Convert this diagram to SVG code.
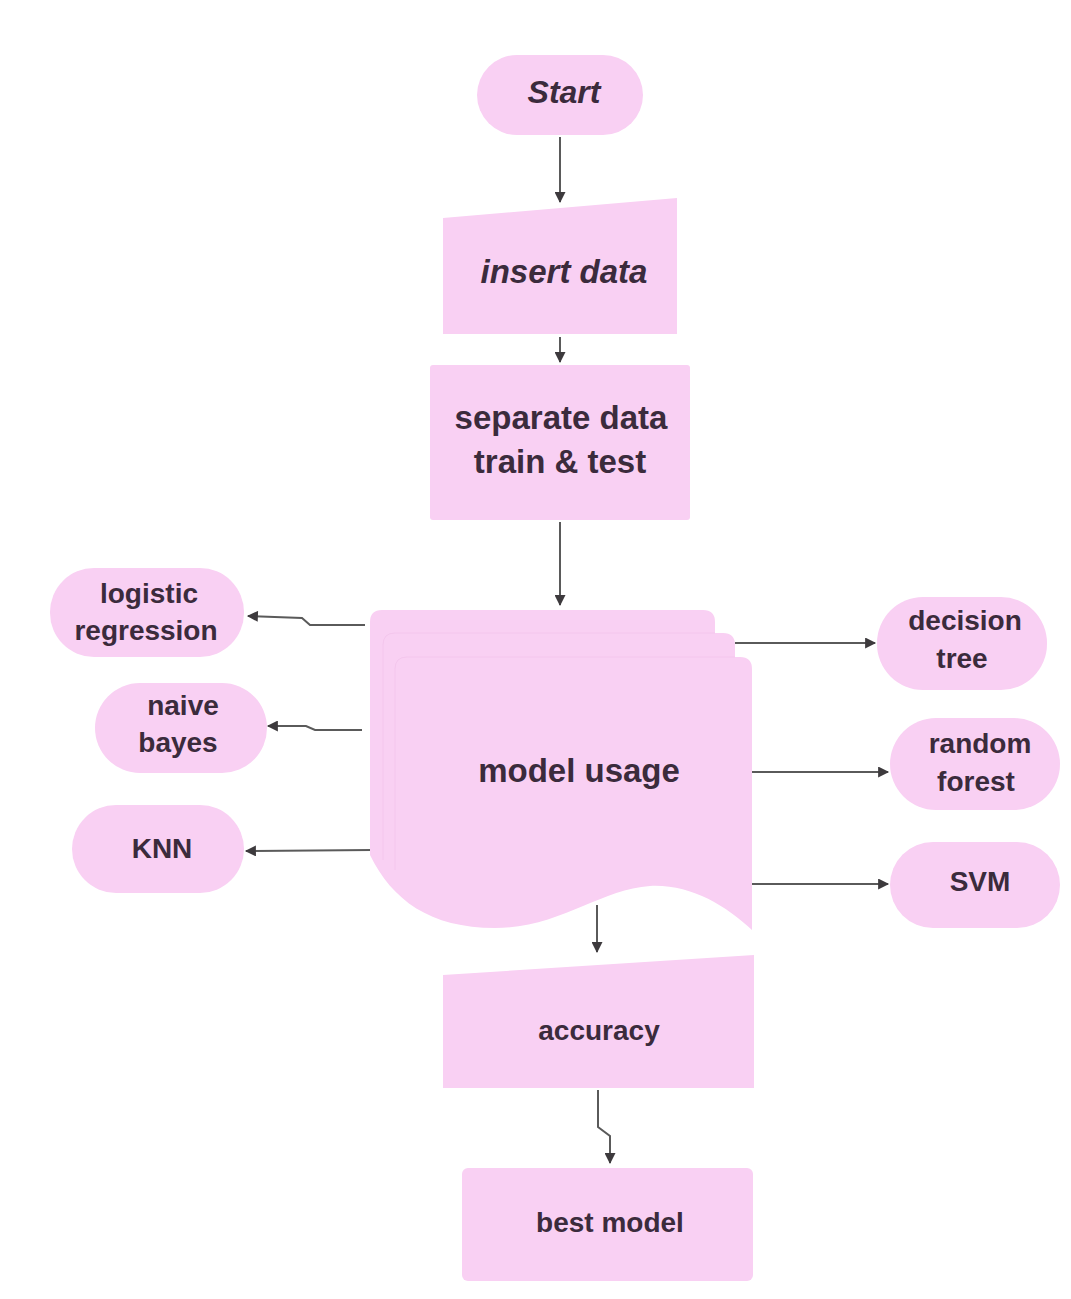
<svg xmlns="http://www.w3.org/2000/svg" width="1071" height="1299" viewBox="0 0 1071 1299">
  <defs>
    <marker id="arrow" viewBox="0 0 10 10" refX="9" refY="5" markerWidth="12" markerHeight="11" markerUnits="userSpaceOnUse" orient="auto">
      <path d="M0,0 L10,5 L0,10 Z" fill="#3d3a3d"/>
    </marker>
    <style>
      .shape { fill: #f9d0f3; }
      .edge { fill: none; stroke: #f4c6ed; stroke-width: 1; }
      .lbl { font-family: "Liberation Sans", Arial, sans-serif; font-weight: bold; fill: #3b2b3c; text-anchor: middle; }
      .big { font-size: 33px; }
      .small { font-size: 28px; }
      .ital { font-style: italic; }
      .conn { fill: none; stroke: #5a5a5a; stroke-width: 2; marker-end: url(#arrow); }
    </style>
  </defs>
  <rect width="1071" height="1299" fill="#ffffff"/>

  <!-- connectors -->
  <g id="connectors">
    <path class="conn" d="M560,137 L560,202"/>
    <path class="conn" d="M560,337 L560,362"/>
    <path class="conn" d="M560,522 L560,605"/>
    <path class="conn" d="M365,625 L310,625 L302,618 L248,616"/>
    <path class="conn" d="M362,730 L315,730 L306,726 L268,726"/>
    <path class="conn" d="M372,850 L246,851"/>
    <path class="conn" d="M735,643 L875,643"/>
    <path class="conn" d="M752,772 L888,772"/>
    <path class="conn" d="M752,884 L888,884"/>
    <path class="conn" d="M597,905 L597,952"/>
    <path class="conn" d="M598,1090 L598,1127 L610,1136 L610,1163"/>
  </g>

  <!-- start -->
  <g id="start">
    <rect class="shape" x="477" y="55" width="166" height="80" rx="40"/>
    <text class="lbl ital" style="font-size:32px" x="564" y="103">Start</text>
  </g>

  <!-- insert data (manual input) -->
  <g id="insert-data">
    <polygon class="shape" points="443,218 677,198 677,334 443,334"/>
    <text class="lbl big ital" x="564" y="283">insert data</text>
  </g>

  <!-- separate data -->
  <g id="separate-data">
    <rect class="shape" x="430" y="365" width="260" height="155" rx="3"/>
    <text class="lbl big" x="561" y="429">separate data</text>
    <text class="lbl big" x="560" y="473">train &amp; test</text>
  </g>

  <!-- model usage (stacked documents) -->
  <g id="model-usage">
    <path class="shape" d="M370,622 Q370,610 382,610 L703,610 Q715,610 715,622 L715,633 L723,633 Q735,633 735,645 L735,657 L740,657 Q752,657 752,669 L752,930 C725,905 690,884 650,886 C600,889 560,928 495,928 C430,928 392,900 370,855 Z"/>
    <path class="edge" d="M383,860 L383,645 Q383,633 395,633 L715,633"/>
    <path class="edge" d="M395,870 L395,669 Q395,657 407,657 L735,657"/>
    <text class="lbl big" x="579" y="782">model usage</text>
  </g>

  <!-- left models -->
  <g id="logistic-regression">
    <rect class="shape" x="50" y="568" width="194" height="89" rx="44"/>
    <text class="lbl small" x="149" y="603">logistic</text>
    <text class="lbl small" x="146" y="640">regression</text>
  </g>
  <g id="naive-bayes">
    <rect class="shape" x="95" y="683" width="172" height="90" rx="45"/>
    <text class="lbl small" x="183" y="715">naive</text>
    <text class="lbl small" x="178" y="752">bayes</text>
  </g>
  <g id="knn">
    <rect class="shape" x="72" y="805" width="172" height="88" rx="44"/>
    <text class="lbl small" x="162" y="858">KNN</text>
  </g>

  <!-- right models -->
  <g id="decision-tree">
    <rect class="shape" x="877" y="597" width="170" height="93" rx="46"/>
    <text class="lbl small" x="965" y="630">decision</text>
    <text class="lbl small" x="962" y="668">tree</text>
  </g>
  <g id="random-forest">
    <rect class="shape" x="890" y="718" width="170" height="92" rx="46"/>
    <text class="lbl small" x="980" y="753">random</text>
    <text class="lbl small" x="976" y="791">forest</text>
  </g>
  <g id="svm">
    <rect class="shape" x="890" y="842" width="170" height="86" rx="43"/>
    <text class="lbl small" x="980" y="891">SVM</text>
  </g>

  <!-- accuracy (manual input) -->
  <g id="accuracy">
    <polygon class="shape" points="443,975 754,955 754,1088 443,1088"/>
    <text class="lbl small" x="599" y="1040">accuracy</text>
  </g>

  <!-- best model -->
  <g id="best-model">
    <rect class="shape" x="462" y="1168" width="291" height="113" rx="6"/>
    <text class="lbl small" x="610" y="1232">best model</text>
  </g>
</svg>
